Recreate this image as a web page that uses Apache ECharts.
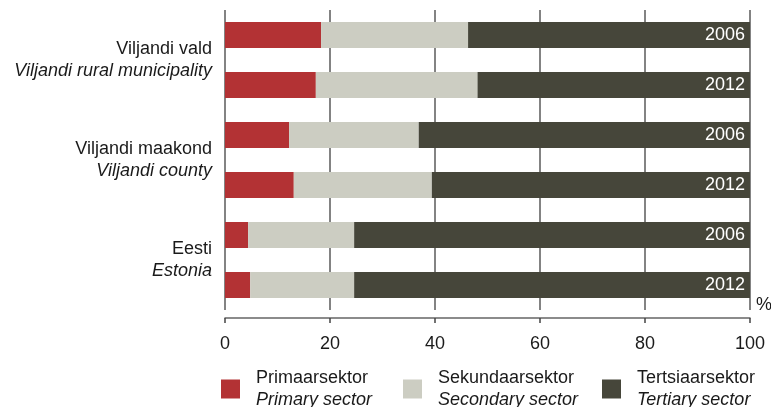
<!DOCTYPE html>
<html>
<head>
<meta charset="utf-8">
<script src="https://cdn.jsdelivr.net/npm/echarts@6/dist/echarts.min.js"></script>
<style>
  html, body { margin: 0; padding: 0; background: #fff; }
  #chart { width: 771px; height: 407px; }
</style>
</head>
<body>
<div id="chart"></div>
<script>
// rows, top to bottom
const rows = ['vald2006', 'vald2012', 'maakond2006', 'maakond2012', 'eesti2006', 'eesti2012'];
const years = ['2006', '2012', '2006', '2012', '2006', '2012'];
// group labels (Estonian / English)
const groupsEt = ['Viljandi vald', 'Viljandi maakond', 'Eesti'];
const groupsEn = ['Viljandi rural municipality', 'Viljandi county', 'Estonia'];
// sector shares, %
const sectorsEt = ['Primaarsektor', 'Sekundaarsektor', 'Tertsiaarsektor'];
const sectorsEn = ['Primary sector', 'Secondary sector', 'Tertiary sector'];
const primary   = [18.3, 17.3, 12.2, 13.1, 4.4, 4.8];
const secondary = [28.0, 30.8, 24.7, 26.3, 20.2, 19.8];
const tertiary  = [53.7, 51.9, 63.1, 60.6, 75.4, 75.4];
const xTicks = [0, 20, 40, 60, 80, 100];

const colors = ['#b33234', '#cccdc2', '#46463a'];
const font = 'Liberation Sans, Arial, sans-serif';

const chart = echarts.init(document.getElementById('chart'));

function legendFor(i, left) {
  return {
    data: [sectorsEt[i]],
    left: left,
    top: 364,
    orient: 'horizontal',
    icon: 'rect',
    itemWidth: 19,
    itemHeight: 19,
    selectedMode: false,
    formatter: name => '{a|' + name + '}\n{b|' + sectorsEn[sectorsEt.indexOf(name)] + '}',
    textStyle: {
      padding: [0, 0, 0, 11],
      rich: {
        a: { fontFamily: font, fontSize: 18, lineHeight: 22, color: '#1a1a1a' },
        b: { fontFamily: font, fontSize: 18, lineHeight: 22, color: '#1a1a1a', fontStyle: 'italic' }
      }
    }
  };
}

const data = [primary, secondary, tertiary];

chart.setOption({
  animation: false,
  textStyle: { fontFamily: font },
  grid: { left: 225, right: 21, top: 10, bottom: 97, outerBoundsMode: 'none', containLabel: false },
  legend: [legendFor(0, 216), legendFor(1, 398), legendFor(2, 597)],
  xAxis: {
    type: 'value',
    min: xTicks[0],
    max: xTicks[xTicks.length - 1],
    interval: 20,
    offset: 8,
    name: '%',
    nameLocation: 'end',
    nameGap: 6,
    nameTextStyle: { fontFamily: font, fontSize: 18, color: '#1a1a1a', verticalAlign: 'bottom', padding: [0, 0, 4, 0] },
    axisLine: { show: true, lineStyle: { color: '#666', width: 1.5 } },
    axisTick: { show: true, length: 5, lineStyle: { color: '#444', width: 1.5 } },
    axisLabel: { fontSize: 18, color: '#1a1a1a', margin: 17, fontFamily: font },
    splitLine: { show: true, lineStyle: { color: '#5a5a5a', width: 1.5 } }
  },
  yAxis: [
    {
      type: 'category',
      data: rows,
      inverse: true,
      axisLine: { show: false },
      axisTick: { show: false },
      axisLabel: { show: false }
    },
    {
      type: 'category',
      data: groupsEt,
      inverse: true,
      position: 'left',
      axisLine: { show: false },
      axisTick: { show: false },
      axisLabel: {
        margin: 13,
        formatter: (v, i) => '{a|' + v + '}\n{b|' + groupsEn[i] + '}',
        rich: {
          a: { fontFamily: font, fontSize: 18, lineHeight: 22, color: '#1a1a1a', align: 'right' },
          b: { fontFamily: font, fontSize: 18, lineHeight: 22, color: '#1a1a1a', fontStyle: 'italic', align: 'right' }
        }
      }
    }
  ],
  series: sectorsEt.map((name, i) => ({
    name: name,
    type: 'bar',
    stack: 'total',
    yAxisIndex: 0,
    barWidth: 26,
    itemStyle: { color: colors[i] },
    data: data[i],
    label: i === 2 ? {
      show: true,
      position: 'insideRight',
      distance: 5,
      color: '#fff',
      fontSize: 18,
      fontFamily: font,
      formatter: p => years[p.dataIndex]
    } : { show: false }
  }))
});
</script>
</body>
</html>
